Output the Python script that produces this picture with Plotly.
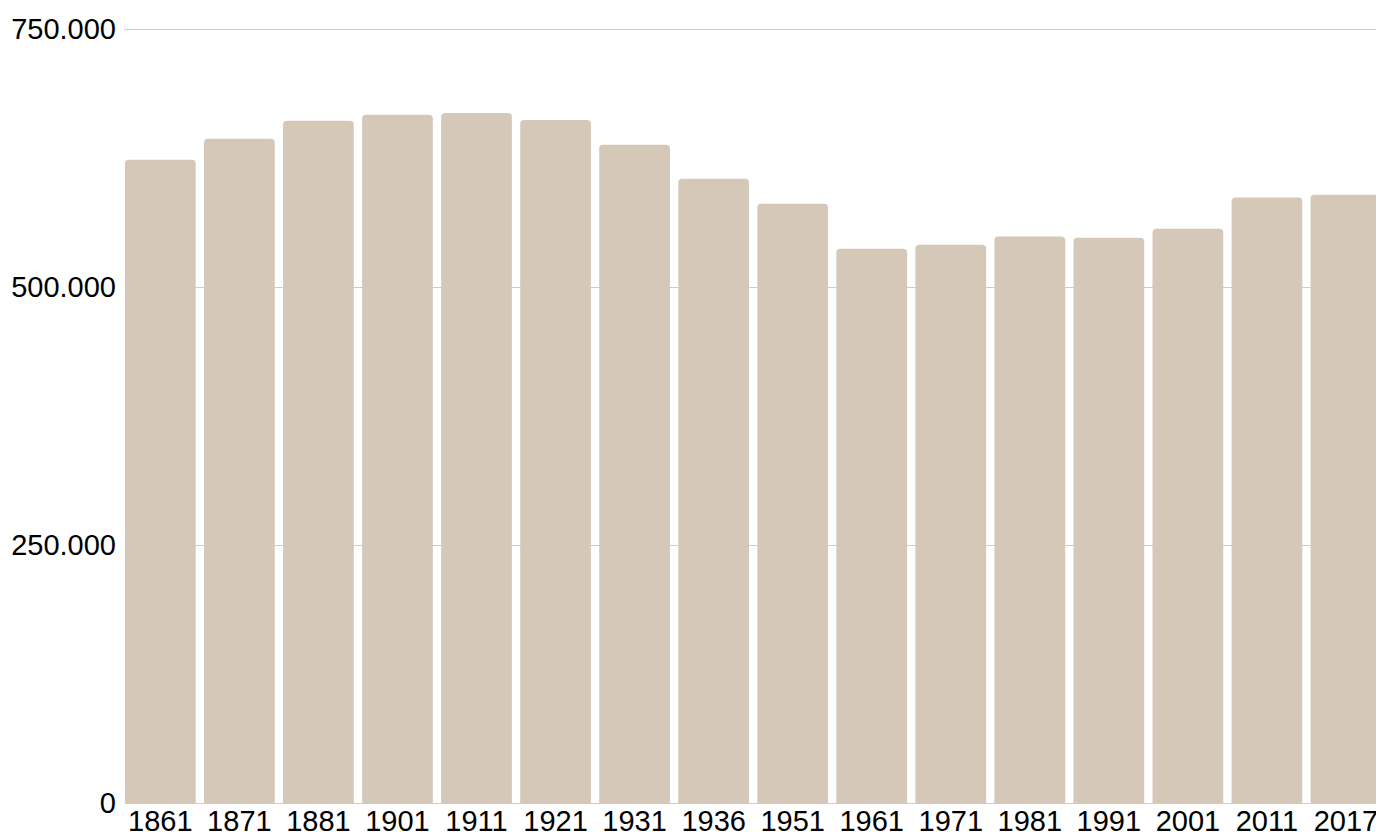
import plotly.graph_objects as go

years = ["1861", "1871", "1881", "1901", "1911", "1921", "1931", "1936",
         "1951", "1961", "1971", "1981", "1991", "2001", "2011", "2017"]
population = [623300, 643700, 661100, 667000, 668600, 661800, 637900, 604900,
              580700, 537100, 541000, 549000, 547800, 556500, 586800, 589400]
y_ticks = [0, 250000, 500000, 750000]

fig = go.Figure(
    go.Bar(
        x=years,
        y=population,
        marker=dict(color="#D5C8B8", cornerradius=4, line=dict(width=0)),
        hoverinfo="x+y",
    )
)

fig.update_layout(
    width=1376,
    height=832,
    margin=dict(l=125, r=0, t=28.3, b=28.7, pad=0, autoexpand=False),
    paper_bgcolor="white",
    plot_bgcolor="white",
    separators=",.",
    bargap=0.105,
    showlegend=False,
    font=dict(family="Liberation Sans, Arial, sans-serif", size=29, color="black"),
    xaxis=dict(
        type="category",
        range=[-0.447, 15.38],
        automargin=False,
        showgrid=False,
        showline=False,
        zeroline=False,
        ticks="",
        ticklabelstandoff=-2,
        tickfont=dict(size=29, color="black"),
        fixedrange=True,
    ),
    yaxis=dict(
        range=[0, 751000],
        tickvals=y_ticks,
        tickformat=",d",
        automargin=False,
        showgrid=True,
        gridcolor="#CCCCCC",
        gridwidth=1,
        zeroline=True,
        zerolinecolor="#CCCCCC",
        zerolinewidth=1,
        showline=False,
        ticks="",
        ticklabelstandoff=8,
        tickfont=dict(size=29, color="black"),
        fixedrange=True,
    ),
)

fig.write_html(
    "out.html",
    config={"displayModeBar": False},
    post_script="document.body.style.margin='0';document.body.style.overflow='hidden';",
)
